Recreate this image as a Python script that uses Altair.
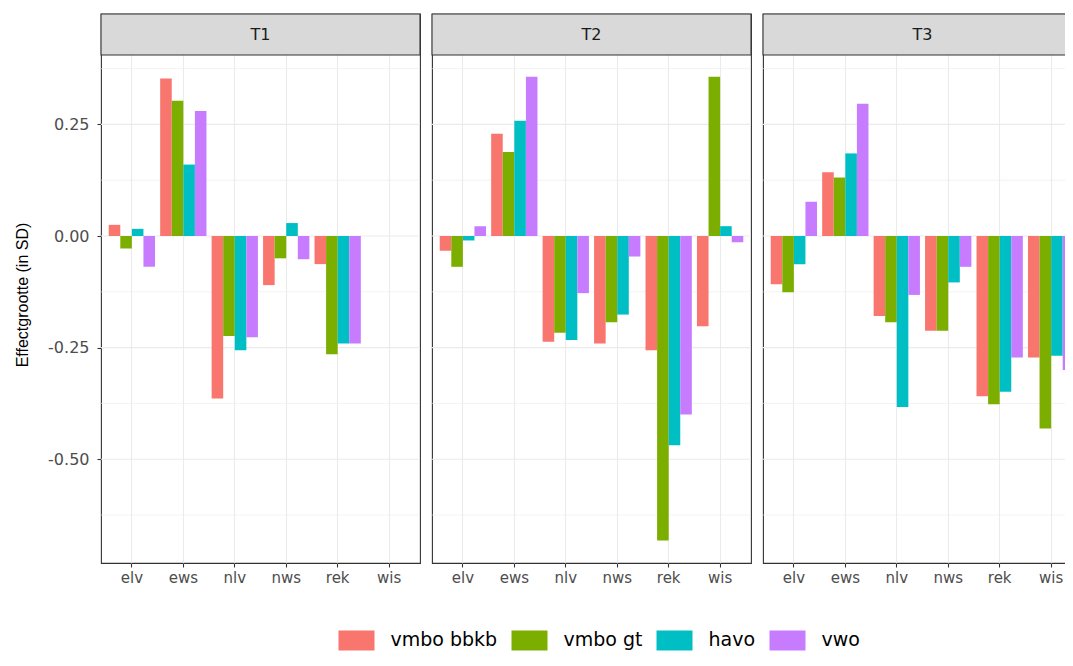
import altair as alt
import pandas as pd

categories = ["elv", "ews", "nlv", "nws", "rek", "wis"]
groups = ["vmbo bbkb", "vmbo gt", "havo", "vwo"]
colors = ["#F8766D", "#7CAE00", "#00BFC4", "#C77CFF"]
times = ["T1", "T2", "T3"]

# values per time, per group, in category order (None = missing)
t1_bbkb = [0.025, 0.353, -0.364, -0.110, -0.063, None]
t1_gt = [-0.028, 0.303, -0.224, -0.050, -0.265, None]
t1_havo = [0.016, 0.160, -0.256, 0.029, -0.241, None]
t1_vwo = [-0.069, 0.280, -0.227, -0.052, -0.241, None]

t2_bbkb = [-0.033, 0.229, -0.237, -0.241, -0.256, -0.202]
t2_gt = [-0.069, 0.188, -0.217, -0.193, -0.682, 0.357]
t2_havo = [-0.010, 0.258, -0.233, -0.176, -0.469, 0.022]
t2_vwo = [0.022, 0.357, -0.128, -0.046, -0.400, -0.014]

t3_bbkb = [-0.108, 0.143, -0.179, -0.212, -0.359, -0.272]
t3_gt = [-0.126, 0.131, -0.193, -0.212, -0.377, -0.431]
t3_havo = [-0.063, 0.185, -0.383, -0.104, -0.349, -0.268]
t3_vwo = [0.077, 0.296, -0.132, -0.069, -0.272, -0.300]

major_ticks = [-0.5, -0.25, 0.0, 0.25]
minor_grid = [-0.625, -0.375, -0.125, 0.125, 0.375]
y_domain = [-0.7325, 0.4973]

series = {
    "T1": [t1_bbkb, t1_gt, t1_havo, t1_vwo],
    "T2": [t2_bbkb, t2_gt, t2_havo, t2_vwo],
    "T3": [t3_bbkb, t3_gt, t3_havo, t3_vwo],
}

rows = []
for t in times:
    for g, vals in zip(groups, series[t]):
        for c, v in zip(categories, vals):
            if v is not None:
                rows.append({"time": t, "grp": g, "cat": c, "value": v})
df = pd.DataFrame(rows)
minor_df = pd.DataFrame({"value": minor_grid})
major_df = pd.DataFrame({"value": major_ticks})

W, H, STRIP = 319, 549, 41
GRID = "#EBEBEB"
DARK = "#333333"

yscale = alt.Scale(domain=y_domain, nice=False, zero=False)
xscale = alt.Scale(domain=categories, paddingInner=0.1, paddingOuter=0.15)
label_expr = "datum.value < 0 ? '-' + format(-datum.value, '.2f') : format(datum.value, '.2f')"

legend = alt.Legend(
    title=None, orient="none", direction="horizontal",
    legendX=237.5, legendY=608,
    symbolType="M-1,-0.556H1V0.556H-1Z", symbolSize=1296, symbolStrokeWidth=0, symbolOpacity=1,
    labelFont="DejaVu Sans", labelFontSize=19, labelColor="#000000",
    labelOffset=16, columnPadding=14,
)


def panel(t, first):
    d = df[df.time == t]
    if first:
        yaxis = alt.Axis(
            values=major_ticks, labelExpr=label_expr, grid=False,
            tickColor=DARK, tickSize=4, tickWidth=1.1, domain=False,
            labelColor="#4D4D4D", labelFont="DejaVu Sans", labelFontSize=16, labelPadding=8,
            title="Effectgrootte (in SD)", titleFont="Liberation Sans", titleFontSize=16,
            titleFontWeight="normal", titleColor="#000000", titleX=-79, titleY=280.5,
            titleBaseline="middle", titleAlign="center", titleAngle=-90,
        )
    else:
        yaxis = None
    xaxis = alt.Axis(
        title=None, labelAngle=0, grid=True, gridColor=GRID, gridWidth=1.1, bandPosition=0.5,
        tickColor=DARK, tickSize=4, tickWidth=1.1, domain=False,
        labelColor="#4D4D4D", labelFont="DejaVu Sans", labelFontSize=15, labelPadding=3,
    )
    minor = alt.Chart(minor_df).mark_rule(color=GRID, strokeWidth=0.6).encode(
        y=alt.Y("value:Q", scale=yscale, axis=yaxis),
        x=alt.value(0), x2=alt.value(W),
    )
    major = alt.Chart(major_df).mark_rule(color=GRID, strokeWidth=1.1).encode(
        y=alt.Y("value:Q", scale=yscale, axis=yaxis),
        x=alt.value(0), x2=alt.value(W),
    )
    bars = alt.Chart(d).mark_bar().encode(
        x=alt.X("cat:N", scale=xscale, axis=xaxis, sort=categories),
        xOffset=alt.XOffset("grp:N", scale=alt.Scale(domain=groups, paddingInner=0, paddingOuter=0), sort=groups),
        y=alt.Y("value:Q", scale=yscale, axis=yaxis),
        color=alt.Color("grp:N", scale=alt.Scale(domain=groups, range=colors), sort=groups, legend=legend),
    )
    lab = pd.DataFrame({"label": [t]})
    strip = alt.Chart(lab).mark_rect(fill="#D9D9D9", stroke=DARK, strokeWidth=1.1).encode(
        x=alt.value(0), x2=alt.value(W), y=alt.value(0), y2=alt.value(STRIP),
    )
    text = alt.Chart(lab).mark_text(font="DejaVu Sans", fontSize=16, color="#1A1A1A", baseline="middle").encode(
        x=alt.value(W / 2), y=alt.value(STRIP / 2), text="label:N",
    )
    return alt.layer(minor, major, bars, strip, text).properties(width=W, height=H)


chart = alt.hconcat(*[panel(t, i == 0) for i, t in enumerate(times)], spacing=8).properties(
    autosize=alt.AutoSizeParams(type="none"),
    padding={"left": 93, "top": 6, "right": 964, "bottom": 636},
).configure_view(stroke=DARK, strokeWidth=1.1)

chart.save("out.html", embed_options={"renderer": "svg", "actions": False})
